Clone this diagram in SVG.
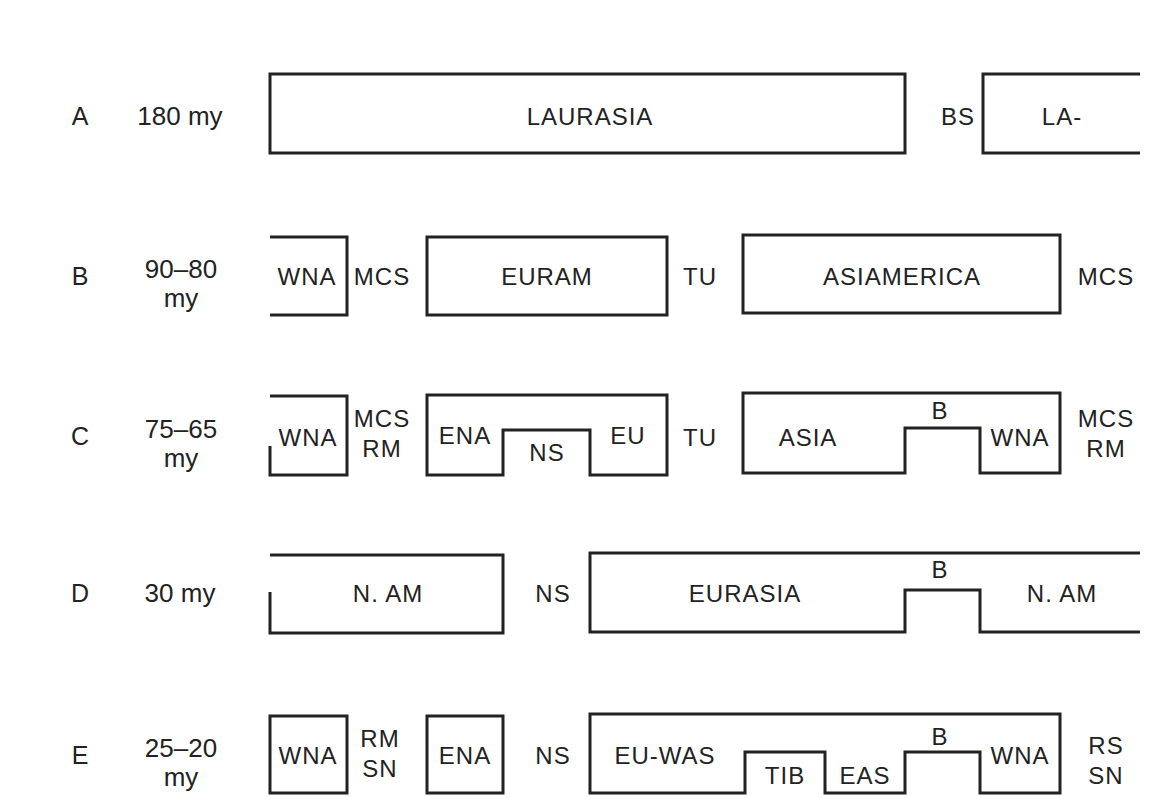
<svg xmlns="http://www.w3.org/2000/svg" width="1158" height="798" viewBox="0 0 1158 798">
<style>
.s{fill:none;stroke:#222;stroke-width:3;stroke-linejoin:miter}
.t{font-family:"Liberation Sans",Arial,sans-serif;font-size:24px;fill:#222;text-anchor:middle;letter-spacing:1px}
.m{font-family:"Liberation Sans",Arial,sans-serif;font-size:26px;fill:#222;text-anchor:middle}
.r{font-family:"Liberation Sans",Arial,sans-serif;font-size:25px;fill:#222;text-anchor:middle}
</style>
<rect width="1158" height="798" fill="#fff"/>
<g id="rowlabels">
<text class="r" x="80" y="125">A</text>
<text class="m" x="180" y="125">180 my</text>
<text class="r" x="80" y="285">B</text>
<text class="m" x="181" y="278">90–80</text>
<text class="m" x="181" y="307">my</text>
<text class="r" x="80" y="445">C</text>
<text class="m" x="181" y="438">75–65</text>
<text class="m" x="181" y="467">my</text>
<text class="r" x="80" y="602">D</text>
<text class="m" x="180" y="602">30 my</text>
<text class="r" x="80" y="764">E</text>
<text class="m" x="181" y="757">25–20</text>
<text class="m" x="181" y="786">my</text>
</g>
<g id="connectors"></g>
<!-- Row A -->
<g id="A-laurasia"><rect class="s" x="270" y="74" width="635" height="79"/><text class="t" x="590" y="125">LAURASIA</text></g>
<g id="A-bs"><text class="t" x="958" y="125">BS</text></g>
<g id="A-la"><path class="s" d="M1140 74H983V153H1140"/><text class="t" x="1062" y="125">LA-</text></g>
<!-- Row B -->
<g id="B-wna"><path class="s" d="M270 237H347V315H270"/><text class="t" x="307" y="285">WNA</text></g>
<g id="B-mcs1"><text class="t" x="382" y="285">MCS</text></g>
<g id="B-euram"><rect class="s" x="427" y="237" width="240" height="78"/><text class="t" x="547" y="285">EURAM</text></g>
<g id="B-tu"><text class="t" x="700" y="285">TU</text></g>
<g id="B-asiamerica"><rect class="s" x="743" y="235" width="317" height="78"/><text class="t" x="902" y="285">ASIAMERICA</text></g>
<g id="B-mcs2"><text class="t" x="1106" y="285">MCS</text></g>
<!-- Row C -->
<g id="C-wna"><path class="s" d="M270 396H347V475H270V446"/><text class="t" x="308" y="446">WNA</text></g>
<g id="C-mcsrm1"><text class="t" x="382" y="427">MCS</text><text class="t" x="382" y="457">RM</text></g>
<g id="C-ena-eu"><path class="s" d="M427 395H667V475H590V430H503V475H427Z"/><text class="t" x="465" y="444">ENA</text><text class="t" x="547" y="461">NS</text><text class="t" x="628" y="444">EU</text></g>
<g id="C-tu"><text class="t" x="700" y="446">TU</text></g>
<g id="C-asia"><path class="s" d="M743 393H1060V473H980V428H905V473H743Z"/><text class="t" x="808" y="446">ASIA</text><text class="t" x="940" y="419">B</text><text class="t" x="1020" y="446">WNA</text></g>
<g id="C-mcsrm2"><text class="t" x="1106" y="427">MCS</text><text class="t" x="1106" y="457">RM</text></g>
<!-- Row D -->
<g id="D-nam"><path class="s" d="M270 592V633H503V555H270"/><text class="t" x="388" y="602">N. AM</text></g>
<g id="D-ns"><text class="t" x="553" y="602">NS</text></g>
<g id="D-eurasia"><path class="s" d="M1140 553H590V632H905V590H980V632H1140"/><text class="t" x="745" y="602">EURASIA</text><text class="t" x="940" y="578">B</text><text class="t" x="1062" y="602">N. AM</text></g>
<!-- Row E -->
<g id="E-wna"><rect class="s" x="270" y="716" width="77" height="77"/><text class="t" x="308" y="764">WNA</text></g>
<g id="E-rmsn1"><text class="t" x="380" y="747">RM</text><text class="t" x="380" y="777">SN</text></g>
<g id="E-ena"><rect class="s" x="427" y="716" width="76" height="77"/><text class="t" x="465" y="764">ENA</text></g>
<g id="E-ns"><text class="t" x="553" y="764">NS</text></g>
<g id="E-euwas"><path class="s" d="M590 714H1060V793H980V752H905V793H825V752H745V793H590Z"/><text class="t" x="665" y="764">EU-WAS</text><text class="t" x="785" y="784">TIB</text><text class="t" x="865" y="784">EAS</text><text class="t" x="940" y="745">B</text><text class="t" x="1020" y="764">WNA</text></g>
<g id="E-rssn"><text class="t" x="1106" y="754">RS</text><text class="t" x="1106" y="784">SN</text></g>
</svg>
